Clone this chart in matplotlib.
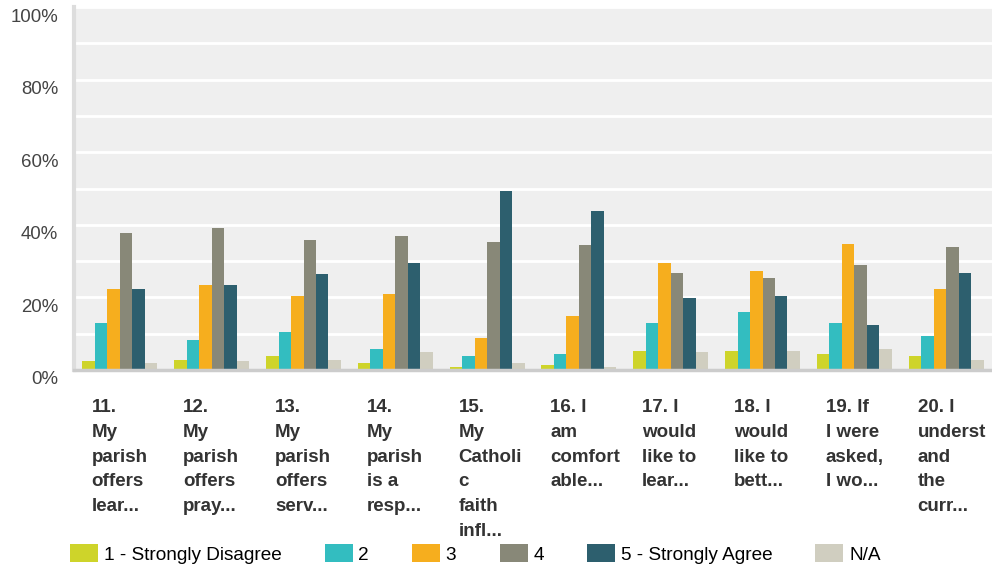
import matplotlib
matplotlib.use("Agg")
import matplotlib.pyplot as plt
import matplotlib.transforms as mtransforms
import numpy as np

plt.rcParams['font.family'] = ['Liberation Sans', 'DejaVu Sans']

# data (percent)
questions = [
    "11.\nMy\nparish\noffers\nlear...",
    "12.\nMy\nparish\noffers\npray...",
    "13.\nMy\nparish\noffers\nserv...",
    "14.\nMy\nparish\nis a\nresp...",
    "15.\nMy\nCatholi\nc\nfaith\ninfl...",
    "16. I\nam\ncomfort\nable...",
    "17. I\nwould\nlike to\nlear...",
    "18. I\nwould\nlike to\nbett...",
    "19. If\nI were\nasked,\nI wo...",
    "20. I\nunderst\nand\nthe\ncurr...",
]
answers = ["1 - Strongly Disagree", "2", "3", "4", "5 - Strongly Agree", "N/A"]
colors = ["#CED42A", "#33BDC0", "#F6AE1E", "#888878", "#2D5F6E", "#D0CEC0"]

strongly_disagree = [2.5, 2.8, 3.9, 1.9, 0.8, 1.4, 5.2, 5.2, 4.4, 3.9]
two = [13.0, 8.3, 10.5, 5.8, 3.9, 4.4, 13.0, 16.0, 13.0, 9.4]
three = [22.4, 23.5, 20.4, 21.0, 8.8, 14.9, 29.6, 27.4, 34.8, 22.4]
four = [37.8, 39.0, 35.9, 37.0, 35.3, 34.5, 26.8, 25.4, 29.0, 34.0]
strongly_agree = [22.4, 23.5, 26.5, 29.6, 49.4, 43.9, 19.9, 20.4, 12.4, 26.8]
na = [1.9, 2.5, 2.8, 5.0, 1.9, 0.8, 5.0, 5.2, 5.8, 2.8]

series = [strongly_disagree, two, three, four, strongly_agree, na]

fig = plt.figure(figsize=(9.92, 5.64), dpi=100)
ax = fig.add_axes([74 / 992, 1 - 370 / 564, 1 - 74 / 992, 363 / 564])
ax.set_facecolor("#EFEFEF")

x = np.arange(len(questions))
w = 0.136
for i, (vals, c, lab) in enumerate(zip(series, colors, answers)):
    ax.bar(x + (i - 2.5) * w, vals, width=w, color=c, label=lab, zorder=3)

ax.set_xlim(-0.5, len(questions) - 0.5)
ax.set_ylim(0, 100)
ax.set_yticks(np.arange(0, 101, 20))
ax.set_yticks(np.arange(0, 101, 10), minor=True)
ax.set_yticklabels([f"{v}%" for v in range(0, 101, 20)], fontsize=13.4, color="#444444")
ax.tick_params(axis='y', which='both', length=0, pad=11.5)
ax.grid(axis='y', which='both', color='white', linewidth=2, zorder=1)
ax.set_xticks([])

for lbl in ax.get_yticklabels():
    lbl.set_transform(lbl.get_transform() + mtransforms.ScaledTranslation(0, -8 / 100, fig.dpi_scale_trans))

for s in ["top", "right"]:
    ax.spines[s].set_visible(False)
ax.spines["left"].set_color("#DDDDDD")
ax.spines["left"].set_linewidth(3)
ax.spines["bottom"].set_color("#CCCCCC")
ax.spines["bottom"].set_linewidth(2.5)
ax.spines["bottom"].set_zorder(4)

for i, q in enumerate(questions):
    ax.text(i - 0.31, -0.08, q, transform=ax.get_xaxis_transform(), ha='left', va='top',
            fontsize=13.5, fontweight='bold', color='#333333', linespacing=1.6)

fig.legend(loc='center left', bbox_to_anchor=(70 / 992, 10 / 564), ncol=6, frameon=False,
           fontsize=13.7, handlelength=1.47, handleheight=1.1, handletextpad=0.3,
           columnspacing=2.27, borderpad=0, borderaxespad=0)

fig.savefig("out.png", dpi=100)
